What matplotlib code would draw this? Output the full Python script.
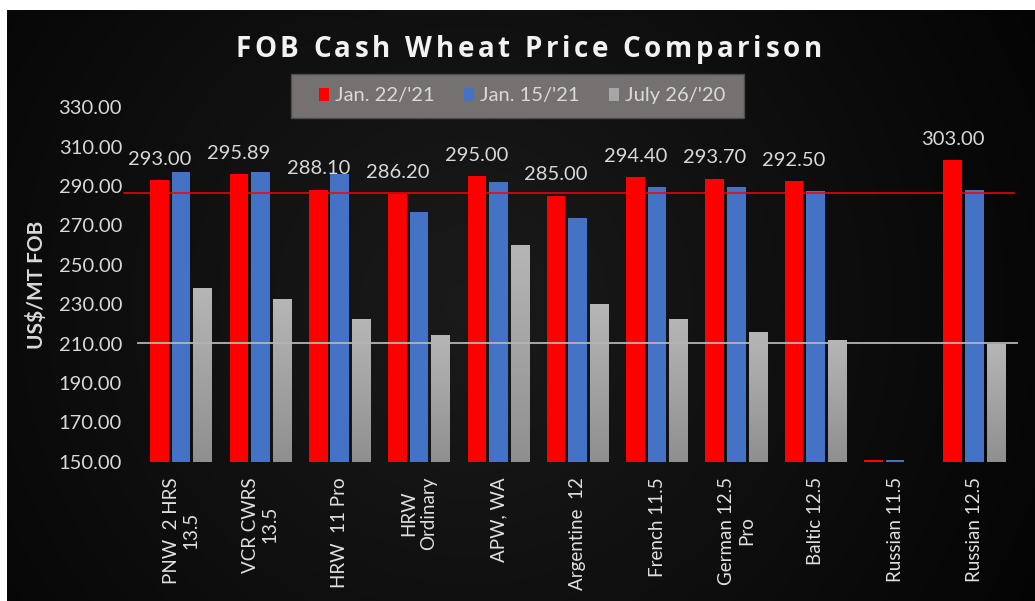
import numpy as np
import matplotlib
matplotlib.use("Agg")
import matplotlib.pyplot as plt
from matplotlib.patches import Rectangle, Patch
from matplotlib.colors import LinearSegmentedColormap
from matplotlib.ticker import FormatStrFormatter

# Data
categories = ["PNW  2 HRS\n13.5", "VCR CWRS\n13.5", "HRW  11 Pro", "HRW\nOrdinary",
              "APW, WA", "Argentine  12", "French 11.5", "German 12.5\nPro",
              "Baltic 12.5", "Russian 11.5", "Russian 12.5"]
series_names = ["Jan. 22/'21", "Jan. 15/'21", "July 26/'20"]
jan22 = [293.00, 295.89, 288.10, 286.20, 295.00, 285.00, 294.40, 293.70, 292.50, 151.0, 303.00]
jan15 = [297.3, 297.3, 296.0, 276.8, 292.0, 273.9, 289.5, 289.5, 287.3, 151.0, 288.1]
jul26 = [238.1, 232.6, 222.3, 214.5, 259.9, 230.2, 222.3, 216.0, 212.0, np.nan, 209.8]
jan22_labels = ["293.00", "295.89", "288.10", "286.20", "295.00", "285.00",
                "294.40", "293.70", "292.50", "", "303.00"]
red_line = 286.3
gray_line = 210.3
yticks = np.arange(150, 331, 20)
title = "FOB Cash Wheat Price Comparison"

FONT = "Lato"
TXT = "#d9d9d9"
RED = "#ff0000"
BLUE = "#4472c4"
W, H = 1035, 601

fig = plt.figure(figsize=(W / 100, H / 100), dpi=100, facecolor="white")

# -------------------------
# background (dark radial gradient, white strip top/left)
# -------------------------
bg = fig.add_axes([7 / W, 0, 1 - 7 / W, 1 - 10 / H], zorder=-1)
yy, xx = np.mgrid[0:1:300j, 0:1:500j]
r = np.sqrt(((xx - 0.45) * 1028) ** 2 + ((yy - 0.5) * 591) ** 2) / 620
shade = np.clip(0.105 - 0.085 * r, 0.01, 1)
bg.imshow(shade, cmap="gray", vmin=0, vmax=1, extent=[0, 1, 0, 1], aspect="auto", origin="lower")
bg.axis("off")

# -------------------------
# main axes
# -------------------------
ax = fig.add_axes([141.5 / W, (H - 461.7) / H, 872.5 / W, 354.4 / H])
ax.set_facecolor("none")
x = np.arange(len(categories))
off = 0.272
wid = 0.235

ax.bar(x - off, jan22, wid, color=RED, zorder=3)
ax.bar(x, jan15, wid, color=BLUE, zorder=3)
gray_bars = ax.bar(x + off, jul26, wid, color="#a6a6a6", zorder=3)

# gradient fill for the grey bars
gcmap = LinearSegmentedColormap.from_list("g", ["#8f8f8f", "#b6b6b6"])
grad = np.linspace(0, 1, 256).reshape(-1, 1)
for rect, v in zip(gray_bars, jul26):
    if np.isnan(v):
        continue
    x0 = rect.get_x()
    im = ax.imshow(grad, cmap=gcmap, extent=[x0, x0 + rect.get_width(), 150, v],
                   aspect="auto", origin="lower", zorder=3.5)
    im.set_clip_path(rect)

for xi, v, lab in zip(x, jan22, jan22_labels):
    if lab:
        ax.annotate(lab, (xi - off, v), xytext=(0, 9), textcoords="offset points",
                    ha="center", va="bottom", color=TXT, fontsize=14.5, family=FONT)

ax.axhline(red_line, xmin=-0.02, xmax=1.0, color=RED, lw=1.1, zorder=5, clip_on=False)
ax.axhline(gray_line, xmin=-0.004, xmax=1.004, color="#b4b4b4", lw=1.3, zorder=5, clip_on=False)

ax.set_xlim(-0.5, len(categories) - 0.5)
ax.set_ylim(150, 330)
ax.set_yticks(yticks)
ax.yaxis.set_major_formatter(FormatStrFormatter("%.2f"))
ax.set_xticks(x)
ax.set_xticklabels(categories, rotation=90, ha="center", va="top", multialignment="center",
                   family=FONT, fontsize=13.5, color="#e0e0e0", linespacing=1.2)
ax.tick_params(axis="y", length=0, pad=14, labelsize=14.5, labelcolor=TXT)
ax.tick_params(axis="x", length=0, pad=11)
for lbl in ax.get_yticklabels():
    lbl.set_family(FONT)
for s in ax.spines.values():
    s.set_visible(False)

# -------------------------
# title (letter-spaced like the original) and axis label
# -------------------------
tkw = dict(fontsize=20, fontweight="bold", color="#f2f2f2", family="Open Sans", va="baseline")
renderer = fig.canvas.get_renderer()


def ink_width(s):
    t = fig.text(0, 0, s, **tkw)
    w = t.get_window_extent(renderer).width
    t.remove()
    return w


target = 587
track = (target - ink_width(title)) / (len(title) - 1)
x_start = 528.5 - target / 2
for i, ch in enumerate(title):
    if ch == " ":
        continue
    left = ink_width(title[:i + 1]) - ink_width(ch) + i * track
    fig.text((x_start + left) / W, 1 - 57.3 / H, ch, ha="left", **tkw)

fig.text(37 / W, 1 - 285 / H, "US$/MT FOB", rotation=90, ha="center", va="center",
         fontsize=15, fontweight="bold", color=TXT, family=FONT)

# -------------------------
# legend
# -------------------------
fig.patches.append(Rectangle((291 / W, 1 - 118 / H), 453 / W, 44 / H, transform=fig.transFigure,
                             facecolor="#767171", edgecolor="#4d4d4d", lw=1, zorder=2))
handles = [Patch(facecolor=c) for c in [RED, BLUE, "#a6a6a6"]]
leg = fig.legend(handles, series_names, loc="center", bbox_to_anchor=(522 / W, 1 - 96 / H),
                 ncol=3, frameon=False, handlelength=0.5, handleheight=0.6, handletextpad=0.3,
                 columnspacing=1.45, prop={"family": FONT, "size": 14.5}, labelcolor=TXT)
leg.set_zorder(6)

fig.savefig("out.png", dpi=100, facecolor="white")
